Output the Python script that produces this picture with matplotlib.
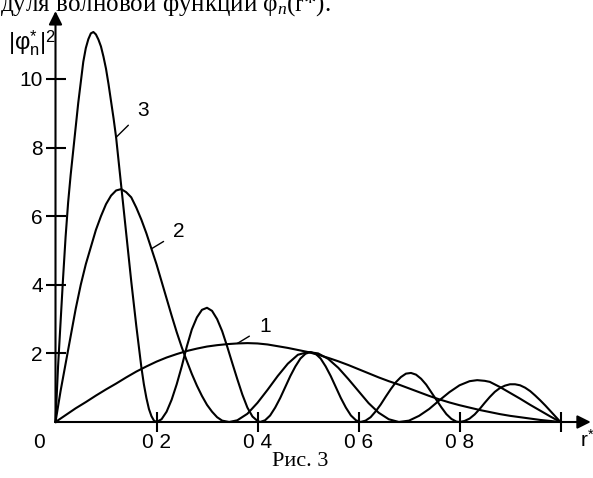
import numpy as np
import matplotlib
matplotlib.use('Agg')
import matplotlib.pyplot as plt

plt.rcParams['font.family'] = ['Liberation Sans', 'DejaVu Sans']
plt.rcParams['mathtext.fontset'] = 'custom'
plt.rcParams['mathtext.rm'] = 'Liberation Sans'
plt.rcParams['mathtext.it'] = 'Liberation Serif:italic'

# кривая 1
r1 = [0, 0.02, 0.04, 0.06, 0.08, 0.10, 0.12, 0.14, 0.16, 0.18, 0.20, 0.22, 0.24,
      0.26, 0.28, 0.30, 0.32, 0.34, 0.36, 0.38, 0.40, 0.42, 0.44, 0.46, 0.48, 0.50,
      0.52, 0.54, 0.56, 0.58, 0.60, 0.62, 0.64, 0.66, 0.68, 0.70, 0.72, 0.74, 0.76,
      0.78, 0.80, 0.82, 0.84, 0.86, 0.88, 0.90, 0.92, 0.94, 0.96, 0.98, 1.0]
v1 = [0, 0.2, 0.4, 0.58, 0.77, 0.95, 1.12, 1.3, 1.47, 1.62, 1.76, 1.88, 1.98,
      2.07, 2.14, 2.2, 2.24, 2.27, 2.29, 2.3, 2.29, 2.26, 2.21, 2.16, 2.1, 2.04,
      1.96, 1.87, 1.77, 1.66, 1.54, 1.42, 1.3, 1.19, 1.09, 0.98, 0.87, 0.76, 0.66,
      0.57, 0.49, 0.42, 0.35, 0.29, 0.23, 0.18, 0.14, 0.1, 0.06, 0.03, 0]

# кривая 2
r2 = [0, 0.01, 0.02, 0.03, 0.04, 0.05, 0.06, 0.07, 0.08, 0.09, 0.10, 0.11, 0.12,
      0.13, 0.14, 0.15, 0.16, 0.17, 0.18, 0.19, 0.20, 0.21, 0.22, 0.23, 0.24, 0.25,
      0.26, 0.27, 0.28, 0.29, 0.30, 0.31, 0.32, 0.33, 0.344,
      0.36, 0.38, 0.40, 0.42, 0.44, 0.46, 0.48, 0.50, 0.52, 0.54, 0.56, 0.58, 0.60,
      0.62, 0.64, 0.66, 0.68,
      0.70, 0.72, 0.74, 0.76, 0.78, 0.80, 0.82, 0.835, 0.85, 0.86, 0.88, 0.90, 0.92,
      0.94, 0.96, 0.98, 1.0]
v2 = [0, 0.9, 1.7, 2.5, 3.3, 4.0, 4.6, 5.1, 5.6, 6.0, 6.35, 6.6, 6.75,
      6.79, 6.7, 6.55, 6.25, 5.9, 5.5, 5.05, 4.6, 4.1, 3.6, 3.1, 2.62, 2.18,
      1.78, 1.4, 1.06, 0.76, 0.5, 0.3, 0.14, 0.04, 0,
      0.05, 0.24, 0.56, 0.94, 1.34, 1.7, 1.96, 2.04, 2.0, 1.84, 1.58, 1.25, 0.9,
      0.55, 0.27, 0.08, 0,
      0.04, 0.18, 0.38, 0.63, 0.87, 1.07, 1.19, 1.22, 1.2, 1.17, 1.02, 0.85, 0.68,
      0.5, 0.33, 0.16, 0]

# кривая 3
r3 = [0, 0.005, 0.01, 0.015, 0.02, 0.025, 0.03, 0.035, 0.04, 0.045, 0.05, 0.055,
      0.06, 0.065, 0.07, 0.075, 0.08, 0.085, 0.09, 0.095, 0.10, 0.105, 0.11, 0.115,
      0.12, 0.125, 0.13, 0.135, 0.14, 0.145, 0.15, 0.155, 0.16, 0.165, 0.17, 0.175,
      0.18, 0.185, 0.19, 0.195, 0.2,
      0.21, 0.22, 0.23, 0.24, 0.25, 0.26, 0.27, 0.28, 0.29, 0.30, 0.31, 0.32, 0.33,
      0.34, 0.35, 0.36, 0.37, 0.38, 0.39, 0.40, 0.405,
      0.415, 0.425, 0.435, 0.445, 0.455, 0.465, 0.475, 0.485, 0.495, 0.505, 0.515,
      0.525, 0.535, 0.545, 0.555, 0.565, 0.575, 0.585, 0.595, 0.604,
      0.614, 0.624, 0.634, 0.644, 0.654, 0.664, 0.674, 0.684, 0.694, 0.704, 0.714,
      0.724, 0.734, 0.744, 0.754, 0.764, 0.774, 0.784, 0.794, 0.80,
      0.81, 0.82, 0.83, 0.84, 0.85, 0.86, 0.87, 0.88, 0.89, 0.90, 0.91, 0.92, 0.93,
      0.94, 0.95, 0.96, 0.97, 0.98, 0.99, 1.0]
v3 = [0, 1.6, 2.9, 4.2, 5.4, 6.4, 7.2, 7.9, 8.6, 9.3, 9.9, 10.5,
      10.9, 11.16, 11.33, 11.37, 11.3, 11.15, 10.95, 10.65, 10.3, 9.85, 9.35, 8.85,
      8.3, 7.6, 6.9, 6.2, 5.5, 4.8, 4.1, 3.45, 2.8, 2.2, 1.6, 1.1,
      0.7, 0.38, 0.17, 0.04, 0,
      0.08, 0.3, 0.65, 1.1, 1.62, 2.2, 2.7, 3.05, 3.27, 3.33, 3.24, 3.0, 2.65,
      2.2, 1.72, 1.25, 0.8, 0.42, 0.16, 0.03, 0,
      0.05, 0.19, 0.42, 0.7, 1.02, 1.34, 1.62, 1.85, 1.99, 2.04, 1.99,
      1.85, 1.62, 1.34, 1.02, 0.7, 0.42, 0.19, 0.05, 0,
      0.04, 0.14, 0.31, 0.51, 0.74, 0.96, 1.16, 1.31, 1.41, 1.43, 1.38,
      1.26, 1.09, 0.87, 0.65, 0.43, 0.23, 0.09, 0.01, 0,
      0.03, 0.1, 0.22, 0.38, 0.56, 0.73, 0.88, 0.99, 1.06, 1.1, 1.1, 1.07, 1.0,
      0.9, 0.77, 0.63, 0.48, 0.32, 0.16, 0]

xticks = [0.2, 0.4, 0.6, 0.8, 1.0]
xlabels = ['0 2', '0 4', '0 6', '0 8', '']
yticks = [2, 4, 6, 8, 10]

W, H = 593, 478
x0, y0 = 55.5, 422      # начало координат, пиксели
sx, sy = 505, 34.3      # пикселей на единицу

fig = plt.figure(figsize=(W / 100, H / 100), dpi=100)
ax = fig.add_axes([x0 / W, (H - y0) / H, (W - x0) / W, y0 / H])
ax.set_xlim(0, (W - x0) / sx)
ax.set_ylim(0, y0 / sy)
for s in ax.spines.values():
    s.set_visible(False)

for r, v in [(r1, v1), (r2, v2), (r3, v3)]:
    ax.plot(r, v, color='black', lw=1.5, clip_on=False, solid_joinstyle='round')

# оси со стрелками
ax.annotate('', xy=(1.06, 0), xytext=(0, 0),
            arrowprops=dict(arrowstyle='-|>', color='black', lw=1.5,
                            mutation_scale=20, shrinkA=0, shrinkB=0))
ax.annotate('', xy=(0, 11.98), xytext=(0, 0),
            arrowprops=dict(arrowstyle='-|>', color='black', lw=1.5,
                            mutation_scale=20, shrinkA=0, shrinkB=0))

ax.set_xticks(xticks)
ax.set_xticklabels(xlabels)
ax.set_yticks(yticks)
ax.tick_params(direction='inout', length=14, width=1.5, labelsize=15, pad=1)
ax.tick_params(axis='y', pad=2)

ax.annotate('0', xy=(0, 0), xytext=(-12, -15), textcoords='offset points',
            ha='center', va='center', fontsize=15)
ax.annotate(r'$\mathrm{r}^{*}$', xy=(1.0, 0), xytext=(14, -13),
            textcoords='offset points', ha='left', va='center', fontsize=15)

# номера кривых
for txt, r, v, pos in [('1', r1, v1, (0.415, 2.78)),
                        ('2', r2, v2, (0.245, 5.54)),
                        ('3', r3, v3, (0.173, 9.07))]:
    i = {'1': 18, '2': 19, '3': 24}[txt]
    ax.annotate(txt, xy=(r[i], v[i]), xytext=pos, fontsize=15,
                ha='center', va='center',
                arrowprops=dict(arrowstyle='-', color='black', lw=1.0,
                                shrinkA=6, shrinkB=0))

fig.text(8 / W, 1 - 43 / H, r'$|\mathrm{φ}^{*}_{\mathrm{n}}|^{2}$', fontsize=17,
         ha='left', va='center')

fig.text(0, 1 - 11 / H, 'дуля волновой функции φ$_{n}$(r*).',
         family='Liberation Serif', fontsize=18, ha='left', va='baseline')
fig.text(300 / W, 1 - 461 / H, 'Рис. 3', family='Liberation Serif',
         fontsize=16, ha='center', va='center')

fig.savefig('out.png', dpi=100)
